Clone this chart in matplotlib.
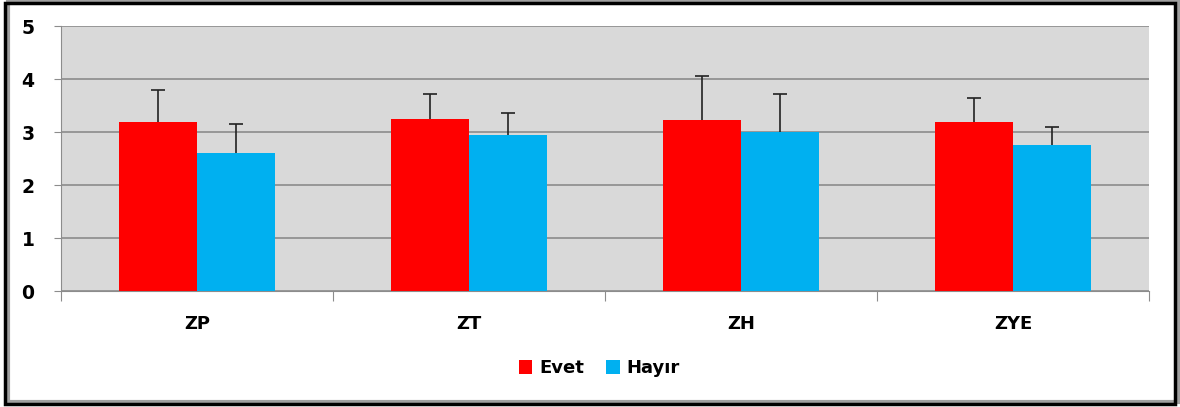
import numpy as np
import matplotlib.pyplot as plt
from matplotlib.patches import Rectangle

categories = ["ZP", "ZT", "ZH", "ZYE"]
evet = [3.18, 3.24, 3.22, 3.19]
hayir = [2.60, 2.95, 3.01, 2.75]
evet_err = [0.62, 0.48, 0.84, 0.45]
hayir_err = [0.55, 0.41, 0.71, 0.34]

RED = "#FF0000"
BLUE = "#00B0F0"

fig = plt.figure(figsize=(11.8, 4.07), dpi=100)
ax = fig.add_axes([0.0517, 0.285, 0.922, 0.651])

x = np.arange(len(categories))
w = 1 / 3.5

ax.bar(x - w / 2, evet, w, color=RED, label="Evet", zorder=3)
ax.bar(x + w / 2, hayir, w, color=BLUE, label="Hayır", zorder=3)

#upper-only error bars
for xs, vals, errs in [(x - w / 2, evet, evet_err), (x + w / 2, hayir, hayir_err)]:
    _, caps, _ = ax.errorbar(xs, vals, yerr=[np.zeros(len(vals)), errs], fmt="none",
                             ecolor="#222222", elinewidth=1.2, capsize=5, capthick=1.2, zorder=4)
    caps[0].set_visible(False)

ax.set_facecolor("#D9D9D9")
ax.set_xlim(-0.5, len(categories) - 0.5)
ax.set_ylim(0, 5)
ax.set_yticks(range(6))
ax.yaxis.grid(True, color="#8C8C8C", linewidth=1.2, zorder=1)
ax.set_axisbelow(True)

#category ticks between groups
ax.set_xticks(np.arange(-0.5, len(categories)), minor=False)
ax.set_xticklabels([])
ax.set_xticks(x, minor=True)
ax.set_xticklabels(categories, minor=True, fontsize=13, fontweight="bold")
ax.tick_params(axis="x", which="major", length=7, color="#8C8C8C")
ax.tick_params(axis="x", which="minor", length=0, pad=17)
ax.tick_params(axis="y", length=5, color="#8C8C8C", labelsize=13.5, pad=14)
for lbl in ax.get_yticklabels():
    lbl.set_fontweight("bold")

for side in ["top", "right"]:
    ax.spines[side].set_visible(False)
for side in ["left", "bottom"]:
    ax.spines[side].set_color("#8C8C8C")

leg = fig.legend(loc="center", bbox_to_anchor=(0.508, 0.095), ncol=2, frameon=False,
                 handlelength=0.75, handleheight=0.75, handletextpad=0.4, columnspacing=1.2,
                 prop=dict(size=13, weight="bold"))

#outer frame with shadow
fig.patches.append(Rectangle((0.007, 0.012), 0.992, 0.985, transform=fig.transFigure,
                             fill=False, edgecolor="#A0A0A0", linewidth=3, zorder=0))
fig.patches.append(Rectangle((0.004, 0.008), 0.992, 0.985, transform=fig.transFigure,
                             fill=False, edgecolor="black", linewidth=2.5, zorder=1))

fig.savefig("out.png", dpi=100)
